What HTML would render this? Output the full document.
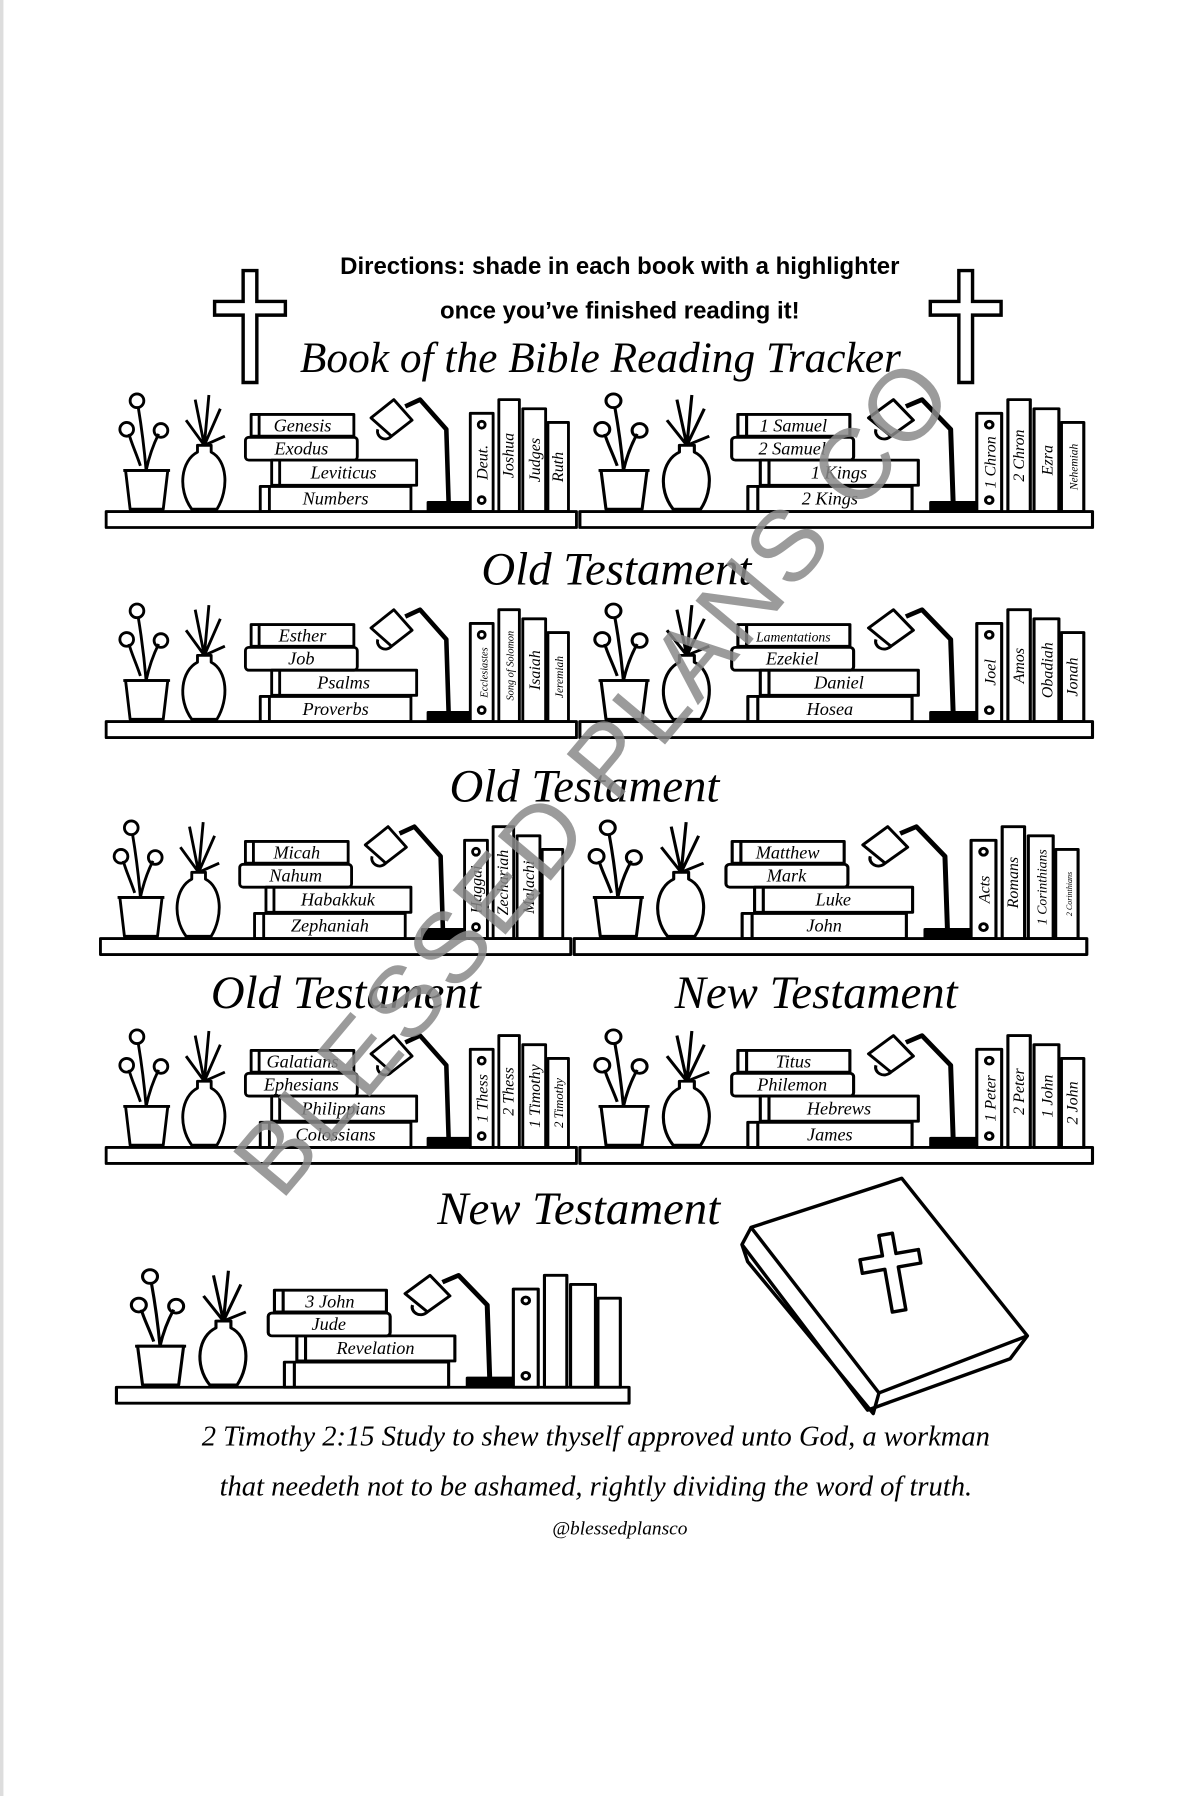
<!DOCTYPE html>
<html><head><meta charset="utf-8"><style>
html,body{margin:0;padding:0;background:#fff;}
svg{display:block}
.h{font-family:"Liberation Serif",serif;font-style:italic;font-size:16px;text-anchor:middle}
.v{font-family:"Liberation Serif",serif;font-style:italic;font-size:14px;text-anchor:middle}
.sec{font-family:"Liberation Serif",serif;font-style:italic;font-size:41px;text-anchor:middle}
</style></head><body>
<svg width="1194" height="1796" viewBox="0 0 1046 1573" preserveAspectRatio="none" xmlns="http://www.w3.org/2000/svg">
<rect x="0" y="0" width="1046" height="1573" fill="#fff"/>
<rect x="0" y="0" width="3" height="1573" fill="#ddd"/>
<defs>
<g id="u" fill="none" stroke="#000" stroke-width="2.5" stroke-linejoin="round">
 <path d="M17,-36 L54,-36 L50,-2 L21,-2 Z"/><line x1="15" y1="-36" x2="56" y2="-36"/>
 <path d="M35,-36 C33,-60 30,-80 28,-92 M35,-36 C38,-50 42,-60 46,-68 M30,-40 C26,-52 22,-60 20,-68"/>
 <circle cx="27" cy="-97" r="6"/><circle cx="48" cy="-71" r="6"/><circle cx="18" cy="-72" r="6"/>
 <path d="M75,-2 C62,-20 66,-45 80,-52 L80,-58 L92,-58 L92,-52 C106,-45 108,-20 97,-2 Z"/>
 <path d="M86,-58 L78,-98 M86,-58 L90,-102 M86,-58 L100,-90 M86,-58 L70,-80 M86,-58 L104,-66"/>
 <rect x="127" y="-85" width="90" height="19"/><rect x="122" y="-65" width="98" height="20" rx="3"/>
 <rect x="145" y="-45" width="127" height="22"/><rect x="135" y="-22" width="132" height="22"/>
 <line x1="134" y1="-85" x2="134" y2="-66"/><line x1="152" y1="-45" x2="152" y2="-23"/><line x1="143" y1="-22" x2="143" y2="0"/>
 <path d="M232,-82 L252,-98 L268,-80 L250,-66 Z"/><path d="M250,-66 C244,-60 236,-66 238,-72"/>
 <path d="M262,-92 L275,-98 L298,-72 L300,-8" stroke-width="4"/><rect x="282" y="-8" width="36" height="7" fill="#000"/>
 <rect x="319" y="-86" width="20" height="86"/><rect x="344" y="-98" width="18" height="98"/>
 <rect x="365" y="-90" width="20" height="90"/><rect x="387" y="-78" width="18" height="78"/>
 <circle cx="329" cy="-76" r="3"/><circle cx="329" cy="-10" r="3"/>
 <rect x="0" y="0" width="412" height="14"/>
</g>
<g id="cross" fill="none" stroke="#000" stroke-width="3"><path d="M25,0 h12 v27 h25 v12 h-25 v59 h-12 v-59 h-25 v-12 h25 Z"/></g>
</defs>

<text x="543" y="240" font-family="Liberation Sans,sans-serif" font-weight="bold" font-size="21" text-anchor="middle">Directions: shade in each book with a highlighter</text>
<text x="543" y="279" font-family="Liberation Sans,sans-serif" font-weight="bold" font-size="21" text-anchor="middle">once you’ve finished reading it!</text>
<use href="#cross" x="188" y="237"/><use href="#cross" x="815" y="237"/>
<text x="526" y="326" class="sec" style="font-size:38px">Book of the Bible Reading Tracker</text>

<g transform="translate(93,448)"><use href="#u"/>
<text class="h" x="172" y="-70">Genesis</text><text class="h" x="171" y="-50">Exodus</text><text class="h" x="208" y="-29">Leviticus</text><text class="h" x="201" y="-6">Numbers</text>
<text class="v" transform="translate(334,-43) rotate(-90)">Deut.</text><text class="v" transform="translate(357,-49) rotate(-90)">Joshua</text><text class="v" transform="translate(380,-45) rotate(-90)">Judges</text><text class="v" transform="translate(400,-39) rotate(-90)">Ruth</text></g>
<g transform="translate(508,448)"><use href="#u" transform="scale(1.09,1)"/>
<text class="h" x="187" y="-70">1 Samuel</text><text class="h" x="186" y="-50">2 Samuel</text><text class="h" x="227" y="-29">1 Kings</text><text class="h" x="219" y="-6">2 Kings</text>
<text class="v" transform="translate(364,-43) rotate(-90)">1 Chron</text><text class="v" transform="translate(389,-49) rotate(-90)">2 Chron</text><text class="v" transform="translate(414,-45) rotate(-90)">Ezra</text><text class="v" style="font-size:10px" transform="translate(436,-39) rotate(-90)">Nehemiah</text></g>
<text class="sec" x="540" y="512">Old Testament</text>

<g transform="translate(93,632)"><use href="#u"/>
<text class="h" x="172" y="-70">Esther</text><text class="h" x="171" y="-50">Job</text><text class="h" x="208" y="-29">Psalms</text><text class="h" x="201" y="-6">Proverbs</text>
<text class="v" style="font-size:9px" transform="translate(334,-43) rotate(-90)">Ecclesiastes</text><text class="v" style="font-size:9px" transform="translate(357,-49) rotate(-90)">Song of Solomon</text><text class="v" transform="translate(380,-45) rotate(-90)">Isaiah</text><text class="v" style="font-size:10px" transform="translate(400,-39) rotate(-90)">Jeremiah</text></g>
<g transform="translate(508,632)"><use href="#u" transform="scale(1.09,1)"/>
<text class="h" style="font-size:12px" x="187" y="-70">Lamentations</text><text class="h" x="186" y="-50">Ezekiel</text><text class="h" x="227" y="-29">Daniel</text><text class="h" x="219" y="-6">Hosea</text>
<text class="v" transform="translate(364,-43) rotate(-90)">Joel</text><text class="v" transform="translate(389,-49) rotate(-90)">Amos</text><text class="v" transform="translate(414,-45) rotate(-90)">Obadiah</text><text class="v" transform="translate(436,-39) rotate(-90)">Jonah</text></g>
<text class="sec" x="512" y="702">Old Testament</text>

<g transform="translate(88,822)"><use href="#u"/>
<text class="h" x="172" y="-70">Micah</text><text class="h" x="171" y="-50">Nahum</text><text class="h" x="208" y="-29">Habakkuk</text><text class="h" x="201" y="-6">Zephaniah</text>
<text class="v" transform="translate(334,-43) rotate(-90)">Haggai</text><text class="v" transform="translate(357,-49) rotate(-90)">Zechariah</text><text class="v" transform="translate(380,-45) rotate(-90)">Malachi</text></g>
<g transform="translate(503,822)"><use href="#u" transform="scale(1.09,1)"/>
<text class="h" x="187" y="-70">Matthew</text><text class="h" x="186" y="-50">Mark</text><text class="h" x="227" y="-29">Luke</text><text class="h" x="219" y="-6">John</text>
<text class="v" transform="translate(364,-43) rotate(-90)">Acts</text><text class="v" transform="translate(389,-49) rotate(-90)">Romans</text><text class="v" style="font-size:12px" transform="translate(414,-45) rotate(-90)">1 Corinthians</text><text class="v" style="font-size:7px" transform="translate(436,-39) rotate(-90)">2 Corinthians</text></g>
<text class="sec" x="303" y="883">Old Testament</text><text class="sec" x="715" y="883">New Testament</text>

<g transform="translate(93,1005)"><use href="#u"/>
<text class="h" x="172" y="-70">Galatians</text><text class="h" x="171" y="-50">Ephesians</text><text class="h" x="208" y="-29">Philippians</text><text class="h" x="201" y="-6">Colossians</text>
<text class="v" transform="translate(334,-43) rotate(-90)">1 Thess</text><text class="v" transform="translate(357,-49) rotate(-90)">2 Thess</text><text class="v" transform="translate(380,-45) rotate(-90)">1 Timothy</text><text class="v" style="font-size:11px" transform="translate(400,-39) rotate(-90)">2 Timothy</text></g>
<g transform="translate(508,1005)"><use href="#u" transform="scale(1.09,1)"/>
<text class="h" x="187" y="-70">Titus</text><text class="h" x="186" y="-50">Philemon</text><text class="h" x="227" y="-29">Hebrews</text><text class="h" x="219" y="-6">James</text>
<text class="v" transform="translate(364,-43) rotate(-90)">1 Peter</text><text class="v" transform="translate(389,-49) rotate(-90)">2 Peter</text><text class="v" transform="translate(414,-45) rotate(-90)">1 John</text><text class="v" transform="translate(436,-39) rotate(-90)">2 John</text></g>
<text class="sec" x="507" y="1072">New Testament</text>

<g transform="translate(102,1215)"><use href="#u" transform="scale(1.09,1)"/>
<text class="h" x="187" y="-70">3 John</text><text class="h" x="186" y="-50">Jude</text><text class="h" x="227" y="-29">Revelation</text></g>

<g fill="none" stroke="#000" stroke-width="3" stroke-linejoin="round">
<path d="M658,1075 L790,1032 L900,1170 L770,1220 Z"/>
<path d="M658,1075 L650,1090 L760,1235 L885,1190 L900,1170"/>
<path d="M650,1090 L655,1105 L765,1238 L770,1220"/>
<path d="M775,1080 h12 v18 h20 v12 h-20 v38 h-12 v-38 h-20 v-12 h20 Z" transform="rotate(-10 785 1110)"/>
</g>

<text class="sec" style="font-size:25px" x="522" y="1266">2 Timothy 2:15 Study to shew thyself approved unto God, a workman</text>
<text class="sec" style="font-size:25px" x="522" y="1310">that needeth not to be ashamed, rightly dividing the word of truth.</text>
<text class="sec" style="font-size:17px" x="543" y="1344">@blessedplansco</text>

<text x="520" y="710" font-family="Liberation Sans,sans-serif" font-size="88" fill="#8a8a8a" fill-opacity="0.85" text-anchor="middle" letter-spacing="3" transform="rotate(-50 520 680)">BLESSED PLANS CO</text>
</svg>
</body></html>
